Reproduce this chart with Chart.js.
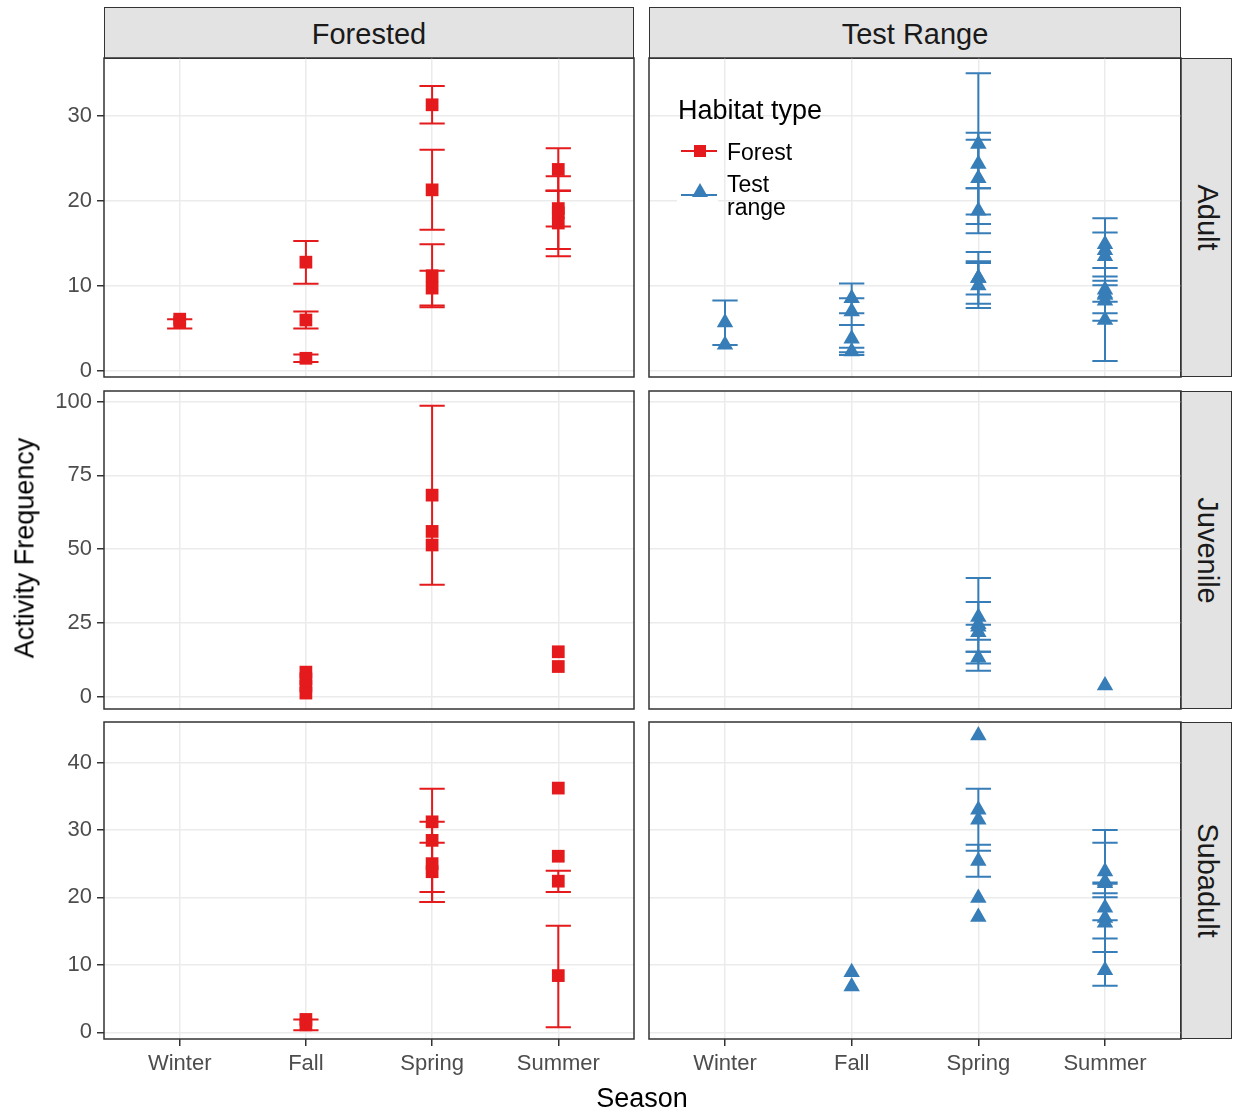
<!DOCTYPE html>
<html>
<head>
<meta charset="utf-8">
<script src="https://cdn.jsdelivr.net/npm/chart.js@4.4.0/dist/chart.umd.min.js"></script>
<style>
  body { margin: 0; background: #fff; font-family: "Liberation Sans", Arial, sans-serif; }
  #wrap { position: relative; width: 1233px; height: 1114px; overflow: hidden; }
  canvas { position: absolute; }
  .strip { position: absolute; background: #e3e3e3; border: 1.5px solid #333; box-sizing: border-box;
           color: #1a1a1a; font-size: 29px; display: flex; align-items: center; justify-content: center; }
  .strip.top { padding-top: 3px; }
  .strip.side { padding-left: 3px; }
  .strip.side span { transform: rotate(90deg); white-space: nowrap; display: block; }
  .txt { position: absolute; white-space: nowrap; line-height: 1; }
  .keybox { position: absolute; background: #fff; }
  .kline { position: absolute; height: 2px; }
</style>
</head>
<body>
<div id="wrap"></div>
<script>
// categories
const seasons = ['Winter', 'Fall', 'Spring', 'Summer'];
const habitats = ['Forested', 'Test Range'];
const ageClasses = ['Adult', 'Juvenile', 'Subadult'];
const legendTitle = 'Habitat type';
const legendLabels = ['Forest', 'Test<br>range'];

// y tick labels and limits per row
const yTicksAdult = [0, 10, 20, 30];
const yTicksJuvenile = [0, 25, 50, 75, 100];
const yTicksSubadult = [0, 10, 20, 30, 40];
const yLimitsAdult = [-0.7, 36.8];
const yLimitsJuvenile = [-4.2, 103.6];
const yLimitsSubadult = [-1.0, 46.0];

// [season, mean, error low, error high]
const forestAdult = [
  ['Winter', 5.7, 5.0, 6.1], ['Winter', 6.1],
  ['Fall', 12.8, 10.25, 15.3], ['Fall', 6.0, 5.0, 7.0], ['Fall', 1.5, 1.05, 1.95],
  ['Spring', 31.3, 29.1, 33.5], ['Spring', 21.3, 16.6, 26.0], ['Spring', 11.2, 7.5, 14.9], ['Spring', 9.75, 7.7, 11.8],
  ['Summer', 23.7, 21.2, 26.2], ['Summer', 19.1, 17.0, 21.2], ['Summer', 18.6, 14.35, 22.9], ['Summer', 17.4, 13.5, 21.2]
];
const testAdult = [
  ['Winter', 5.7, 3.05, 8.3], ['Winter', 3.1],
  ['Fall', 8.55, 6.8, 10.3], ['Fall', 7.0, 5.4, 8.55], ['Fall', 3.8, 2.2, 5.4], ['Fall', 2.3, 1.88, 2.74],
  ['Spring', 26.7, 18.4, 35.0], ['Spring', 24.35, 21.5, 27.2], ['Spring', 22.65, 17.3, 28.0], ['Spring', 18.85, 16.2, 21.5],
  ['Spring', 10.95, 7.9, 14.0], ['Spring', 10.95, 9.0, 12.9], ['Spring', 10.05, 7.4, 12.7],
  ['Summer', 14.9], ['Summer', 14.2, 12.1, 16.3], ['Summer', 13.5], ['Summer', 9.57, 1.18, 17.96],
  ['Summer', 8.95, 6.8, 11.1], ['Summer', 9.1, 8.15, 10.1], ['Summer', 8.25, 5.9, 10.6], ['Summer', 6.0]
];
const forestJuvenile = [
  ['Fall', 8.3], ['Fall', 6.0], ['Fall', 3.6], ['Fall', 1.2],
  ['Spring', 68.3, 37.9, 98.6], ['Spring', 56.0], ['Spring', 51.4],
  ['Summer', 15.2], ['Summer', 10.2]
];
const testJuvenile = [
  ['Spring', 27.0], ['Spring', 24.5, 8.8, 40.2], ['Spring', 23.65, 15.2, 32.1], ['Spring', 21.85, 19.3, 24.4],
  ['Spring', 13.2, 11.2, 15.2],
  ['Summer', 3.8]
];
const forestSubadult = [
  ['Fall', 1.1, 0.3, 1.9], ['Fall', 1.9],
  ['Spring', 31.2], ['Spring', 28.45, 20.8, 36.1], ['Spring', 25.0, 19.3, 31.2], ['Spring', 23.8, 19.3, 28.1],
  ['Summer', 36.2], ['Summer', 26.1], ['Summer', 22.4, 20.8, 23.95], ['Summer', 8.4, 0.75, 15.8]
];
const testSubadult = [
  ['Fall', 8.9], ['Fall', 6.8],
  ['Spring', 44.0], ['Spring', 33.0], ['Spring', 31.5, 26.9, 36.1], ['Spring', 25.4, 23.05, 27.8],
  ['Spring', 19.9], ['Spring', 17.1],
  ['Summer', 23.85], ['Summer', 22.35, 16.6, 28.1], ['Summer', 22.1, 22.0, 22.2], ['Summer', 18.45, 6.9, 30.0],
  ['Summer', 16.95, 13.9, 20.0], ['Summer', 16.25, 11.9, 20.6], ['Summer', 9.2]
];

const panels = [
  [forestAdult, testAdult],
  [forestJuvenile, testJuvenile],
  [forestSubadult, testSubadult]
];
const rowTicks = [yTicksAdult, yTicksJuvenile, yTicksSubadult];
const rowLimits = [yLimitsAdult, yLimitsJuvenile, yLimitsSubadult];
const colors = ['#e41a1c', '#377eb8'];

// layout (pixels)
const colLeft = [104, 649], colWidth = [530, 532];
const rowTop = [58, 391, 722], rowHeight = [319, 318, 317];
const PAD = 12, Y_AXIS_W = 60, X_AXIS_H = 45;
const FONT = '"Liberation Sans", Arial, sans-serif';

Chart.defaults.font.family = FONT;

const wrap = document.getElementById('wrap');

// error bars + panel frame
const errorBars = {
  id: 'errorBars',
  afterDatasetsDraw(chart, args, opts) {
    const {ctx, chartArea: a} = chart;
    const x = chart.scales.x, y = chart.scales.y;
    ctx.save();
    ctx.beginPath();
    ctx.rect(a.left, a.top, a.width, a.height);
    ctx.clip();
    ctx.strokeStyle = opts.color;
    ctx.lineWidth = 2;
    chart.data.datasets[0].data.forEach(p => {
      if (p.lo == null) return;
      const px = x.getPixelForValue(p.x);
      const x0 = x.getPixelForValue(p.x - 0.1), x1 = x.getPixelForValue(p.x + 0.1);
      const yl = y.getPixelForValue(p.lo), yh = y.getPixelForValue(p.hi);
      ctx.beginPath();
      ctx.moveTo(px, yl); ctx.lineTo(px, yh);
      ctx.moveTo(x0, yl); ctx.lineTo(x1, yl);
      ctx.moveTo(x0, yh); ctx.lineTo(x1, yh);
      ctx.stroke();
    });
    ctx.restore();
  },
  afterDraw(chart) {
    const {ctx, chartArea: a} = chart;
    ctx.save();
    ctx.strokeStyle = '#333';
    ctx.lineWidth = 1.5;
    ctx.strokeRect(a.left, a.top, a.width, a.height);
    ctx.restore();
  }
};

function makePanel(row, col) {
  const leftCol = col === 0, bottomRow = row === 2;
  const yW = leftCol ? Y_AXIS_W : 0;
  const xH = bottomRow ? X_AXIS_H : 0;
  const cv = document.createElement('canvas');
  const w = PAD + yW + colWidth[col] + PAD;
  const h = PAD + rowHeight[row] + xH + PAD;
  cv.width = w; cv.height = h;
  cv.style.left = (colLeft[col] - yW - PAD) + 'px';
  cv.style.top = (rowTop[row] - PAD) + 'px';
  wrap.appendChild(cv);

  const color = colors[col];
  const data = panels[row][col].map(([s, m, lo, hi]) => ({x: seasons.indexOf(s) + 1, y: m, lo, hi}));

  new Chart(cv, {
    type: 'scatter',
    data: {
      datasets: [{
        data: data,
        pointStyle: leftCol ? 'rect' : 'triangle',
        pointRadius: leftCol ? 9 : 9.5,
        backgroundColor: color,
        borderColor: color,
        borderWidth: 0
      }]
    },
    options: {
      responsive: false,
      animation: false,
      events: [],
      layout: { padding: PAD },
      plugins: {
        legend: { display: false },
        tooltip: { enabled: false },
        errorBars: { color: color }
      },
      scales: {
        x: {
          type: 'linear', min: 0.4, max: 4.6,
          afterBuildTicks: s => { s.ticks = seasons.map((_, i) => ({value: i + 1})); },
          afterFit: s => { s.height = xH; s.paddingLeft = 0; s.paddingRight = 0; },
          ticks: {
            display: bottomRow, autoSkip: false, maxRotation: 0, padding: 5,
            color: '#4d4d4d', font: { size: 22 },
            callback: v => seasons[Math.round(v) - 1]
          },
          grid: { color: '#ebebeb', lineWidth: 1.5, drawTicks: bottomRow, tickLength: 7, tickColor: '#333', tickWidth: 1.5 },
          border: { display: false }
        },
        y: {
          type: 'linear', min: rowLimits[row][0], max: rowLimits[row][1],
          afterBuildTicks: s => { s.ticks = rowTicks[row].map(v => ({value: v})); },
          afterFit: s => { s.width = yW; s.paddingTop = 0; s.paddingBottom = 0; },
          ticks: { display: leftCol, padding: 5, color: '#4d4d4d', font: { size: 22 } },
          grid: { color: '#ebebeb', lineWidth: 1.5, drawTicks: leftCol, tickLength: 7, tickColor: '#333', tickWidth: 1.5 },
          border: { display: false }
        }
      }
    },
    plugins: [errorBars]
  });
}

function addDiv(cls, style, html) {
  const d = document.createElement('div');
  d.className = cls;
  Object.assign(d.style, style);
  d.innerHTML = html;
  wrap.appendChild(d);
  return d;
}

// strips
habitats.forEach((hb, c) => {
  addDiv('strip top', { left: colLeft[c] + 'px', top: '7px', width: colWidth[c] + 'px', height: (rowTop[0] - 7 + 1) + 'px' }, hb);
});
ageClasses.forEach((ag, r) => {
  addDiv('strip side', { left: (colLeft[1] + colWidth[1] - 1) + 'px', top: rowTop[r] + 'px', width: '52px', height: rowHeight[r] + 'px' }, '<span>' + ag + '</span>');
});

for (let r = 0; r < 3; r++) for (let c = 0; c < 2; c++) makePanel(r, c);

// axis titles
addDiv('txt', { left: '642px', top: '1098px', fontSize: '27px', color: '#000', transform: 'translate(-50%,-50%)' }, 'Season');
addDiv('txt', { left: '25px', top: '548px', fontSize: '27px', color: '#000', transform: 'translate(-50%,-50%) rotate(-90deg)' }, 'Activity Frequency');

// legend
addDiv('txt', { left: '678px', top: '97px', fontSize: '27px', color: '#000' }, legendTitle);
addDiv('keybox', { left: '677px', top: '130px', width: '41px', height: '43px' }, '');
addDiv('keybox', { left: '677px', top: '173px', width: '41px', height: '44px' }, '');
addDiv('kline', { left: '681px', top: '150px', width: '36px', background: colors[0] }, '');
addDiv('kline', { left: '681px', top: '194px', width: '36px', background: colors[1] }, '');
addDiv('keybox', { left: '693.5px', top: '145px', width: '12px', height: '12px', background: colors[0] }, '');
addDiv('keybox', { left: '692px', top: '183px', width: '0', height: '0', background: 'transparent',
  borderLeft: '8px solid transparent', borderRight: '8px solid transparent', borderBottom: '14px solid ' + colors[1] }, '');
addDiv('txt', { left: '727px', top: '140.5px', fontSize: '23px', color: '#000' }, legendLabels[0]);
addDiv('txt', { left: '727px', top: '172.5px', fontSize: '23px', color: '#000', lineHeight: '23px' }, legendLabels[1]);
</script>
</body>
</html>
